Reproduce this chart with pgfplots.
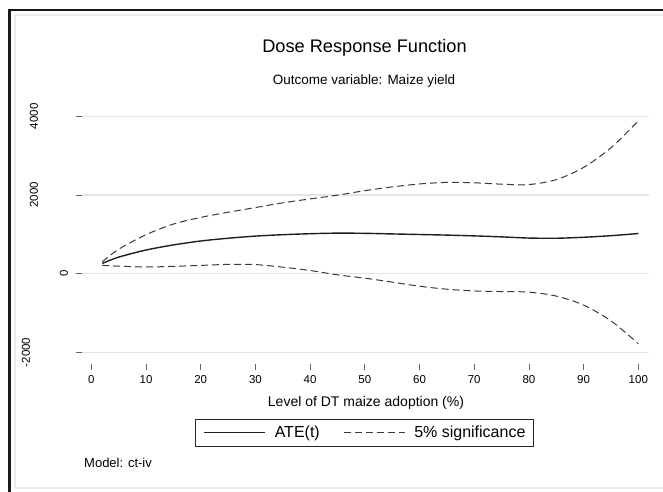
\documentclass[border=0pt]{standalone}
\usepackage{fontspec}
\setmainfont{Liberation Sans}
\usepackage{pgfplots}
\usepackage{pgfplotstable}
\pgfplotsset{compat=1.18}
\definecolor{gridc}{HTML}{E4E4E4}
\definecolor{framegray}{HTML}{EBEBEB}
\definecolor{linec}{HTML}{1E1E1E}
\definecolor{dashc}{HTML}{3A3A3A}

\pgfplotstableread{
x    ate   up    lo
2    260   300   210
5    420   620   190
10   600   990   170
15   730   1260  185
20   830   1430  210
25   900   1560  235
30   955   1680  230
35   990   1800  165
40   1015  1900  80
45   1030  1995  -30
50   1025  2110  -115
55   1010  2205  -215
60   995   2280  -320
65   980   2320  -395
70   960   2310  -440
75   935   2275  -455
80   905   2265  -470
85   900   2390  -570
90   925   2700  -800
95   965   3200  -1200
100  1020  3880  -1780
}\drf

\begin{document}
\begin{tikzpicture}
\useasboundingbox (0pt,0pt) rectangle (663pt,491pt);
\fill[white] (0pt,0pt) rectangle (663pt,491pt);
\draw[framegray, line width=1.2pt] (664pt,476pt) -- (15pt,476pt) -- (15pt,3pt) -- (664pt,3pt);
\draw[black!90, line width=2.4pt] (9.6pt,-1pt) -- (9.6pt,480.8pt) -- (665pt,480.8pt);

\begin{axis}[
  at={(81.7pt,127pt)}, anchor=south west,
  scale only axis, width=567pt, height=253.6pt,
  xmin=-1.755, xmax=101.9, ymin=-2297, ymax=4150,
  axis line style={draw=none},
  xtick={0,10,...,100}, ytick={-2000,0,2000,4000},
  yticklabels={\raisebox{38pt}{-2000},0,\raisebox{30pt}{2000},\raisebox{30pt}{4000}},
  xtick pos=bottom, ytick pos=left, tick align=outside,
  major tick length=6pt,
  every tick/.style={draw=black!60, line width=0.8pt},
  ymajorgrids, grid style={gridc, line width=1.2pt},
  /pgf/number format/assume math mode=true,
  xticklabel style={font=\fontsize{11.5}{13}\selectfont, anchor=north, inner sep=0pt, yshift=-5pt},
  yticklabel style={font=\fontsize{11.5}{13}\selectfont, rotate=90, anchor=south, inner sep=0pt, yshift=7.5pt},
  legend columns=2,
  legend image code/.code={\draw[#1] (0pt,0pt) -- (61pt,0pt);},
  legend style={at={(0.4986,-0.2709)}, anchor=center, draw=black!85, line width=0.9pt,
    font=\fontsize{16}{18}\selectfont, inner xsep=8pt, inner ysep=7pt,
    nodes={inner sep=0pt},
    /tikz/every odd column/.append style={column sep=9pt},
    /tikz/every even column/.append style={column sep=23.5pt}},
]
\addplot[linec, line width=1.4pt, smooth] table[x=x, y=ate] {\drf};
\addlegendentry{ATE(t)}
\addplot[dashc, line width=1pt, dash pattern=on 7pt off 4pt, smooth] table[x=x, y=up] {\drf};
\addlegendentry{5\% significance}
\addplot[dashc, line width=1pt, dash pattern=on 7pt off 4pt, smooth, forget plot] table[x=x, y=lo] {\drf};
\end{axis}

\node[anchor=base, font=\fontsize{18.2}{20}\selectfont] at (364.5pt,438.3pt) {Dose Response Function};
\node[anchor=base, font=\fontsize{13.5}{15}\selectfont] at (364pt,406pt) {Outcome variable: Maize yield};
\node[anchor=base, font=\fontsize{14}{16}\selectfont] at (366pt,85pt) {Level of DT maize adoption (\%)};
\node[anchor=base west, inner sep=0pt, font=\fontsize{13}{15}\selectfont] at (84pt,23.5pt) {Model: ct-iv};
\end{tikzpicture}
\end{document}
